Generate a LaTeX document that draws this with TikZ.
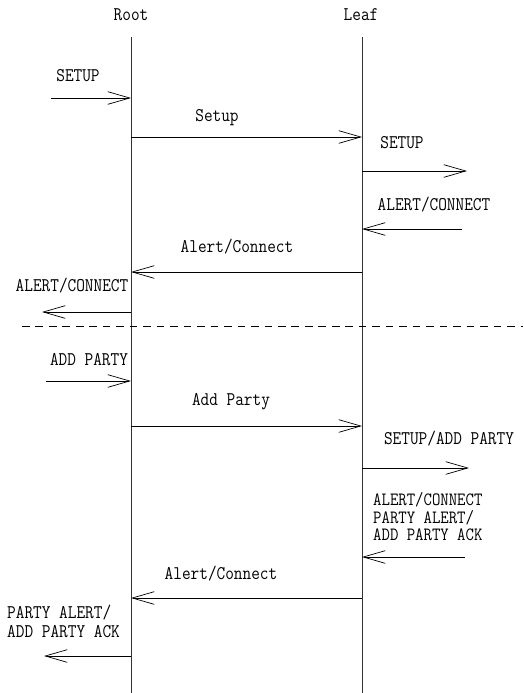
\documentclass[tikz,border=0pt]{standalone}
\usepackage{fontspec}
\newfontfamily\msgfont[FakeStretch=0.87]{Latin Modern Mono}
\usetikzlibrary{arrows.meta}

\begin{document}
\begin{tikzpicture}[x=0.03cm, y=-0.03cm,
    msg/.style={-{Straight Barb[length=0.66cm,width=0.38cm]}, line width=0.6pt},
    lbl/.style={font=\msgfont\fontsize{16.5}{14}\selectfont, inner sep=0pt},
    life/.style={line width=0.6pt, black!80}]
    \useasboundingbox (0,0) rectangle (523,693);

    % Lifelines
    \node[lbl] (root) at (131,15) {Root};
    \node[lbl] (leaf) at (361,15) {Leaf};
    \coordinate (roottop) at (131,37);
    \coordinate (rootend) at (131,693);
    \coordinate (leaftop) at (362,37);
    \coordinate (leafend) at (362,693);
    \draw[life] (roottop) -- (rootend);
    \draw[life] (leaftop) -- (leafend);

    % Setup
    \coordinate (in1) at (51,98);
    \coordinate (r1) at (131,98);
    \draw[msg] (in1) -- (r1);
    \node[lbl] (setupin) at (78,76) {SETUP};

    \coordinate (r2) at (131,137);
    \coordinate (l2) at (362,137);
    \draw[msg] (r2) -- (l2);
    \node[lbl] (setup) at (217,118) {Setup};

    \coordinate (l3) at (362,171);
    \coordinate (out3) at (467,171);
    \draw[msg] (l3) -- (out3);
    \node[lbl] (setupout) at (402,143) {SETUP};

    % Alert/Connect
    \coordinate (in4) at (462,229);
    \coordinate (l4) at (362,229);
    \draw[msg] (in4) -- (l4);
    \node[lbl] (alertin) at (434,205) {ALERT/CONNECT};

    \coordinate (l5) at (362,272);
    \coordinate (r5) at (131,272);
    \draw[msg] (l5) -- (r5);
    \node[lbl] (alert) at (237,247) {Alert/Connect};

    \coordinate (r6) at (131,312);
    \coordinate (out6) at (42,312);
    \draw[msg] (r6) -- (out6);
    \node[lbl] (alertout) at (72,286) {ALERT/CONNECT};

    % Separator
    \coordinate (sepl) at (22,326);
    \coordinate (sepr) at (523,326);
    \draw[dash pattern=on 6.5pt off 5pt, line width=0.6pt] (sepl) -- (sepr);

    % Add party
    \coordinate (in7) at (46,381);
    \coordinate (r7) at (131,381);
    \draw[msg] (in7) -- (r7);
    \node[lbl] (addin) at (89,360) {ADD PARTY};

    \coordinate (r8) at (131,426);
    \coordinate (l8) at (362,426);
    \draw[msg] (r8) -- (l8);
    \node[lbl] (add) at (231,402) {Add Party};

    \coordinate (l9) at (362,468);
    \coordinate (out9) at (469,468);
    \draw[msg] (l9) -- (out9);
    \node[lbl] (addout) at (449,439) {SETUP/ADD PARTY};

    \coordinate (in10) at (465,557);
    \coordinate (l10) at (362,557);
    \draw[msg] (in10) -- (l10);
    \node[lbl, anchor=west, align=left, font=\msgfont\fontsize{16}{15}\selectfont]
        (ackin) at (373,517) {ALERT/CONNECT\\PARTY ALERT/\\ADD PARTY ACK};

    \coordinate (l11) at (362,598);
    \coordinate (r11) at (131,598);
    \draw[msg] (l11) -- (r11);
    \node[lbl] (alert2) at (221,574) {Alert/Connect};

    \coordinate (r12) at (131,656);
    \coordinate (out12) at (44,656);
    \draw[msg] (r12) -- (out12);
    \node[lbl, anchor=west, align=left, font=\msgfont\fontsize{16.5}{16.2}\selectfont]
        (ackout) at (7,621) {PARTY ALERT/\\ADD PARTY ACK};
\end{tikzpicture}
\end{document}
